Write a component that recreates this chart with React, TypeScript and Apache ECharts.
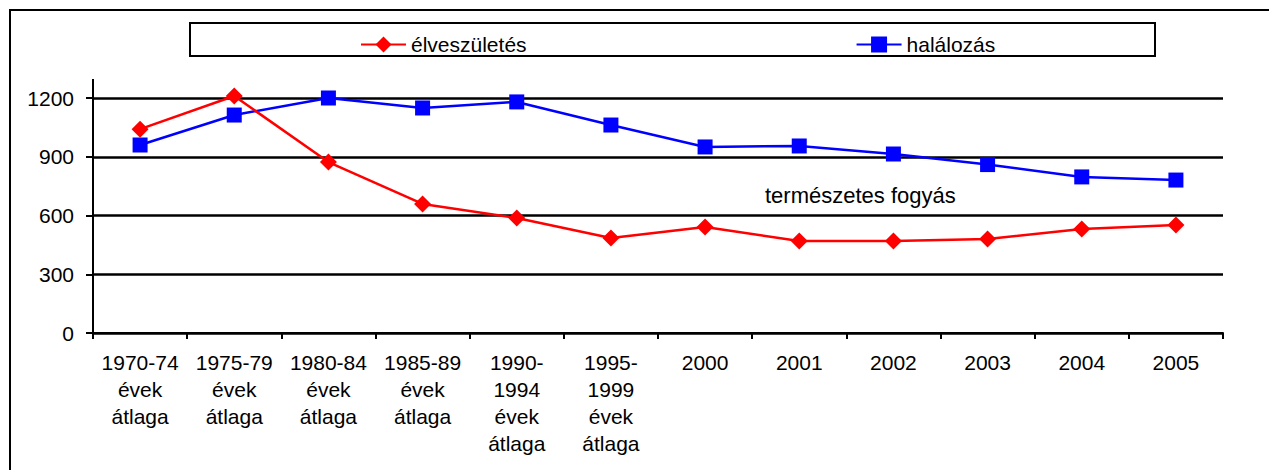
import React, { useEffect, useRef } from "react";
import * as echarts from "echarts";

const categories = [
  "1970-74\névek\nátlaga",
  "1975-79\névek\nátlaga",
  "1980-84\névek\nátlaga",
  "1985-89\névek\nátlaga",
  "1990-\n1994\névek\nátlaga",
  "1995-\n1999\névek\nátlaga",
  "2000",
  "2001",
  "2002",
  "2003",
  "2004",
  "2005",
];
const births = [1041, 1210, 873, 659, 587, 485, 541, 470, 470, 480, 531, 551];
const deaths = [960, 1113, 1200, 1149, 1180, 1062, 950, 955, 914, 860, 797, 781];
const yTicks = [0, 300, 600, 900, 1200];
const seriesNames = ["élveszületés", "halálozás"];
const annotation = "természetes fogyás";

const FONT = "'Liberation Sans', Arial, sans-serif";

export default function App() {
  const ref = useRef<HTMLDivElement>(null);
  useEffect(() => {
    if (!ref.current) return;
    const chart = echarts.init(ref.current, null, { renderer: "svg" });
    chart.setOption({
      animation: false,
      backgroundColor: "#ffffff",
      textStyle: { fontFamily: FONT },
      grid: { left: 93, right: 46, top: 98, bottom: 137, containLabel: false },
      legend: {
        left: 355,
        top: 29,
        itemWidth: 45,
        itemHeight: 20,
        itemGap: 329,
        textStyle: { fontSize: 21, color: "#000", fontFamily: FONT },
        data: seriesNames,
      },
      xAxis: {
        type: "category",
        data: categories,
        boundaryGap: true,
        axisLine: { lineStyle: { color: "#000", width: 2 } },
        axisTick: { show: true, length: 6, alignWithLabel: false, lineStyle: { color: "#000", width: 2 } },
        axisLabel: {
          interval: 0,
          color: "#000",
          fontSize: 21,
          lineHeight: 27,
          margin: 16,
          fontFamily: FONT,
        },
        splitLine: { show: false },
      },
      yAxis: {
        type: "value",
        min: 0,
        max: yTicks[yTicks.length - 1],
        interval: 300,
        axisLine: { show: true, lineStyle: { color: "#000", width: 2 } },
        axisTick: { show: true, length: 7, lineStyle: { color: "#000", width: 2 } },
        axisLabel: {
          color: "#000",
          fontSize: 21,
          margin: 19,
          fontFamily: FONT,
          formatter: (v: number) => String(v),
        },
        splitLine: { show: true, lineStyle: { color: "#000", width: 2.5 } },
      },
      graphic: [
        {
          type: "rect",
          shape: { x: 10, y: 10, width: 1400, height: 600 },
          style: { fill: "none", stroke: "#000", lineWidth: 2 },
          silent: true,
          z: -1,
        },
        {
          type: "rect",
          shape: { x: 190, y: 23, width: 965, height: 33 },
          style: { fill: "none", stroke: "#000", lineWidth: 2 },
          silent: true,
        },
        {
          type: "line",
          shape: { x1: 93, y1: 79, x2: 93, y2: 99 },
          style: { stroke: "#000", lineWidth: 2 },
          silent: true,
        },
        {
          type: "text",
          x: 765,
          y: 195,
          style: {
            text: annotation,
            fill: "#000",
            font: `22px ${FONT}`,
            verticalAlign: "middle",
            align: "left",
          },
          silent: true,
        },
      ],
      series: [
        {
          name: seriesNames[0],
          type: "line",
          data: births,
          symbol: "diamond",
          symbolSize: 17,
          clip: false,
          itemStyle: { color: "#ff0000" },
          lineStyle: { color: "#ff0000", width: 2.5 },
          z: 3,
        },
        {
          name: seriesNames[1],
          type: "line",
          data: deaths,
          symbol: "rect",
          symbolSize: 15,
          clip: false,
          itemStyle: { color: "#0000ff" },
          lineStyle: { color: "#0000ff", width: 2.5 },
          z: 2,
        },
      ],
    });
    return () => chart.dispose();
  }, []);
  return (
    <div
      ref={ref}
      style={{ position: "fixed", left: 0, top: 0, width: 1269, height: 470 }}
    />
  );
}
